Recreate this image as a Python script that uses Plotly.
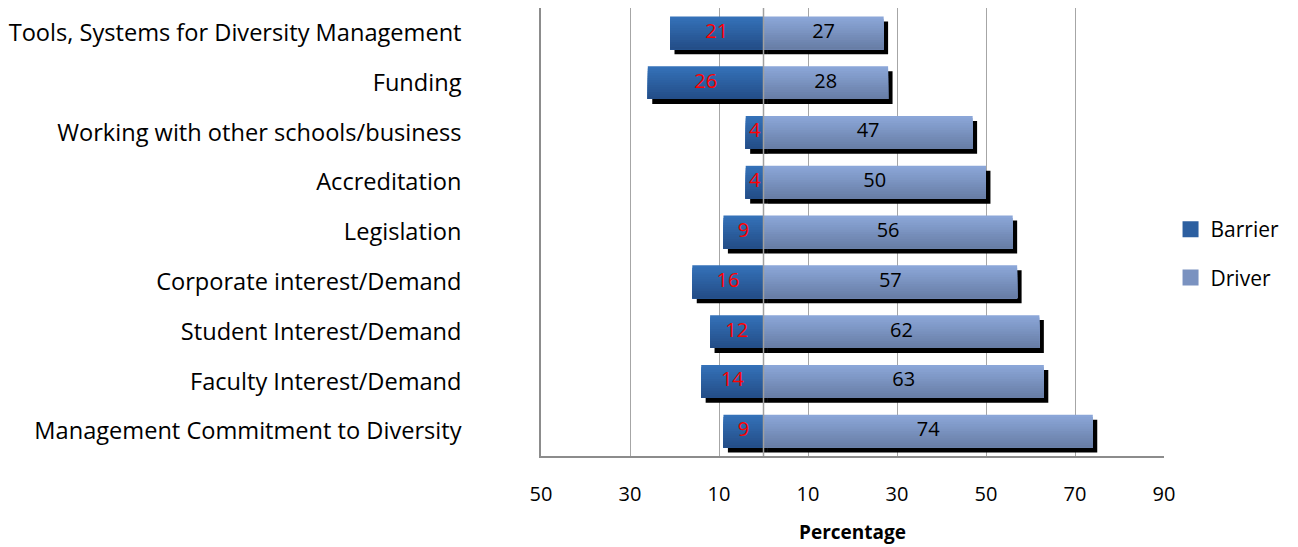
"""Drivers and barriers for diversity programmes - diverging bar chart"""
import plotly.graph_objects as go

# categories listed bottom to top
categories = [
    "Management Commitment to Diversity",
    "Faculty Interest/Demand",
    "Student Interest/Demand",
    "Corporate interest/Demand",
    "Legislation",
    "Accreditation",
    "Working with other schools/business",
    "Funding",
    "Tools, Systems for Diversity Management",
]
barrier = [9, 14, 12, 16, 9, 4, 4, 26, 21]
driver = [74, 63, 62, 57, 56, 50, 47, 28, 27]

tick_vals = [-50, -30, -10, 10, 30, 50, 70, 90]
tick_text = ["50", "30", "10", "10", "30", "50", "70", "90"]

FONT = "Open Sans"
BAR_W = 0.66
N_STRIPS = 14
SHADOW_DX = 1.0      # in data units (~4-5px)
SHADOW_DY = 0.1      # in category units (~5px)


def blend(c1, c2, t):
    return "rgb({},{},{})".format(*[round(a + (b - a) * t) for a, b in zip(c1, c2)])


barrier_top, barrier_bot = (52, 113, 184), (36, 78, 136)
driver_top, driver_bot = (139, 166, 216), (104, 126, 166)

fig = go.Figure()

# drop shadows
fig.add_trace(go.Bar(
    y=categories, x=barrier, base=[-v + SHADOW_DX for v in barrier],
    orientation="h", width=BAR_W, offset=-BAR_W / 2 - SHADOW_DY,
    marker=dict(color="black", line_width=0), showlegend=False, hoverinfo="skip",
))
fig.add_trace(go.Bar(
    y=categories, x=driver, base=[SHADOW_DX] * len(driver),
    orientation="h", width=BAR_W, offset=-BAR_W / 2 - SHADOW_DY,
    marker=dict(color="black", line_width=0), showlegend=False, hoverinfo="skip",
))

# gradient bars: each layer runs from its top edge down to the bar bottom,
# so the layers overlap and leave no seams
strip = BAR_W / N_STRIPS
for series, vals, top, bot in [("Barrier", barrier, barrier_top, barrier_bot),
                               ("Driver", driver, driver_top, driver_bot)]:
    for i in range(N_STRIPS):
        t = i / (N_STRIPS - 1)
        fig.add_trace(go.Bar(
            y=categories,
            x=vals,
            base=[-v for v in vals] if series == "Barrier" else [0] * len(vals),
            orientation="h",
            width=BAR_W - i * strip,
            offset=-BAR_W / 2,
            marker=dict(color=blend(top, bot, t), line_width=0),
            showlegend=False,
            hoverinfo="skip",
        ))

# value labels
fig.add_trace(go.Scatter(
    y=categories, x=[-v / 2 for v in barrier], text=[str(v) for v in barrier],
    mode="text", textfont=dict(family=FONT, size=20, color="#ff0000"),
    showlegend=False, hoverinfo="skip",
))
fig.add_trace(go.Scatter(
    y=categories, x=[v / 2 for v in driver], text=[str(v) for v in driver],
    mode="text", textfont=dict(family=FONT, size=20, color="black"),
    showlegend=False, hoverinfo="skip",
))

# legend entries (square markers so the swatch can be sized)
fig.add_trace(go.Scatter(y=[None], x=[None], mode="markers", name="Barrier",
                         legendgroup="b",
                         marker=dict(symbol="square", size=16, color="rgb(44,95,160)")))
fig.add_trace(go.Scatter(y=[None], x=[None], mode="markers", name="Driver",
                         legendgroup="d",
                         marker=dict(symbol="square", size=16, color="rgb(122,146,192)")))

# zero line drawn above the bars
fig.add_vline(x=0, line=dict(color="#a0a0a0", width=1.5), layer="above")

# page body has an 8px default margin, so the figure is 8px smaller
fig.update_layout(
    barmode="overlay",
    width=1290,
    height=539,
    margin=dict(l=533, r=134, t=0, b=91),
    plot_bgcolor="white",
    paper_bgcolor="white",
    font=dict(family=FONT, size=18, color="black"),
    legend=dict(x=1.0105, y=0.452, xanchor="left", yanchor="middle",
                font=dict(family=FONT, size=21), tracegroupgap=18),
    xaxis=dict(
        range=[-50, 90],
        tickvals=tick_vals,
        ticktext=tick_text,
        showgrid=True,
        gridcolor="#a6a6a6",
        gridwidth=1,
        zeroline=False,
        showline=True,
        linecolor="#8c8c8c",
        linewidth=1.5,
        ticks="",
        automargin=False,
        ticklabelstandoff=19,
        tickfont=dict(family=FONT, size=20),
        title=dict(text="<b>Percentage</b>", font=dict(family=FONT, size=19), standoff=20),
    ),
    yaxis=dict(
        categoryorder="array",
        categoryarray=categories,
        range=[-0.5, len(categories) - 0.5],
        showgrid=False,
        zeroline=False,
        showline=True,
        linecolor="#8c8c8c",
        linewidth=1.5,
        ticks="",
        automargin=False,
        ticklabelstandoff=73,
        tickfont=dict(family=FONT, size=23.6),
    ),
)

fig.write_html("out.html")
